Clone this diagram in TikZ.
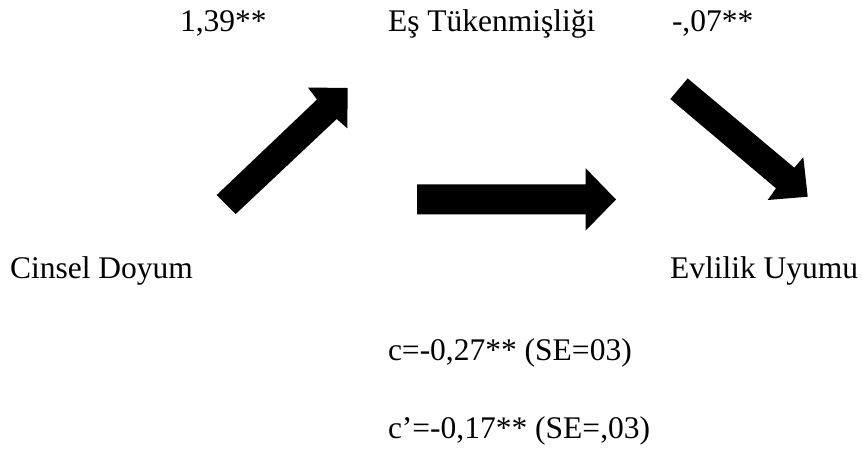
\documentclass[tikz,border=0pt]{standalone}
\usepackage{fontspec}
\setmainfont{Liberation Serif}
\begin{document}
\begin{tikzpicture}[x=1pt,y=-1pt,
  lbl/.style={anchor=base west,inner sep=0pt,outer sep=0pt,font=\fontsize{31.5}{38}\selectfont},
  blockarrow/.style={fill=black,draw=none}]
\useasboundingbox (0,0) rectangle (862,451);
% texts
\node[lbl] (a) at (180,31.7) {1,39**};
\node[lbl] (m) at (388,31.7) {Eş Tükenmişliği};
\node[lbl] (b) at (672,31.7) {-,07**};
\node[lbl] (x) at (10,278) {Cinsel Doyum};
\node[lbl] (y) at (670,278) {Evlilik Uyumu};
\node[lbl] (c1) at (388,360) {c=-0,27** (SE=03)};
\node[lbl] (c2) at (388,438) {c’=-0,17** (SE=,03)};
% arrow X -> M
\fill[blockarrow] (216.7,195) -- (317,99.5) -- (308,87.5) -- (347.7,88) -- (347.3,128.3) -- (336.7,119) -- (235.7,214) -- cycle;
% arrow X -> Y
\fill[blockarrow] (417,184.3) -- (585.7,184.3) -- (585.7,168.3) -- (616,199.5) -- (585.7,230.5) -- (585.7,214.3) -- (417,214.3) -- cycle;
% arrow M -> Y
\fill[blockarrow] (687.7,78.4) -- (794.3,167.7) -- (803.3,157.3) -- (807.7,196.7) -- (767.7,200) -- (776,188.3) -- (670.3,99) -- cycle;
\end{tikzpicture}
\end{document}
